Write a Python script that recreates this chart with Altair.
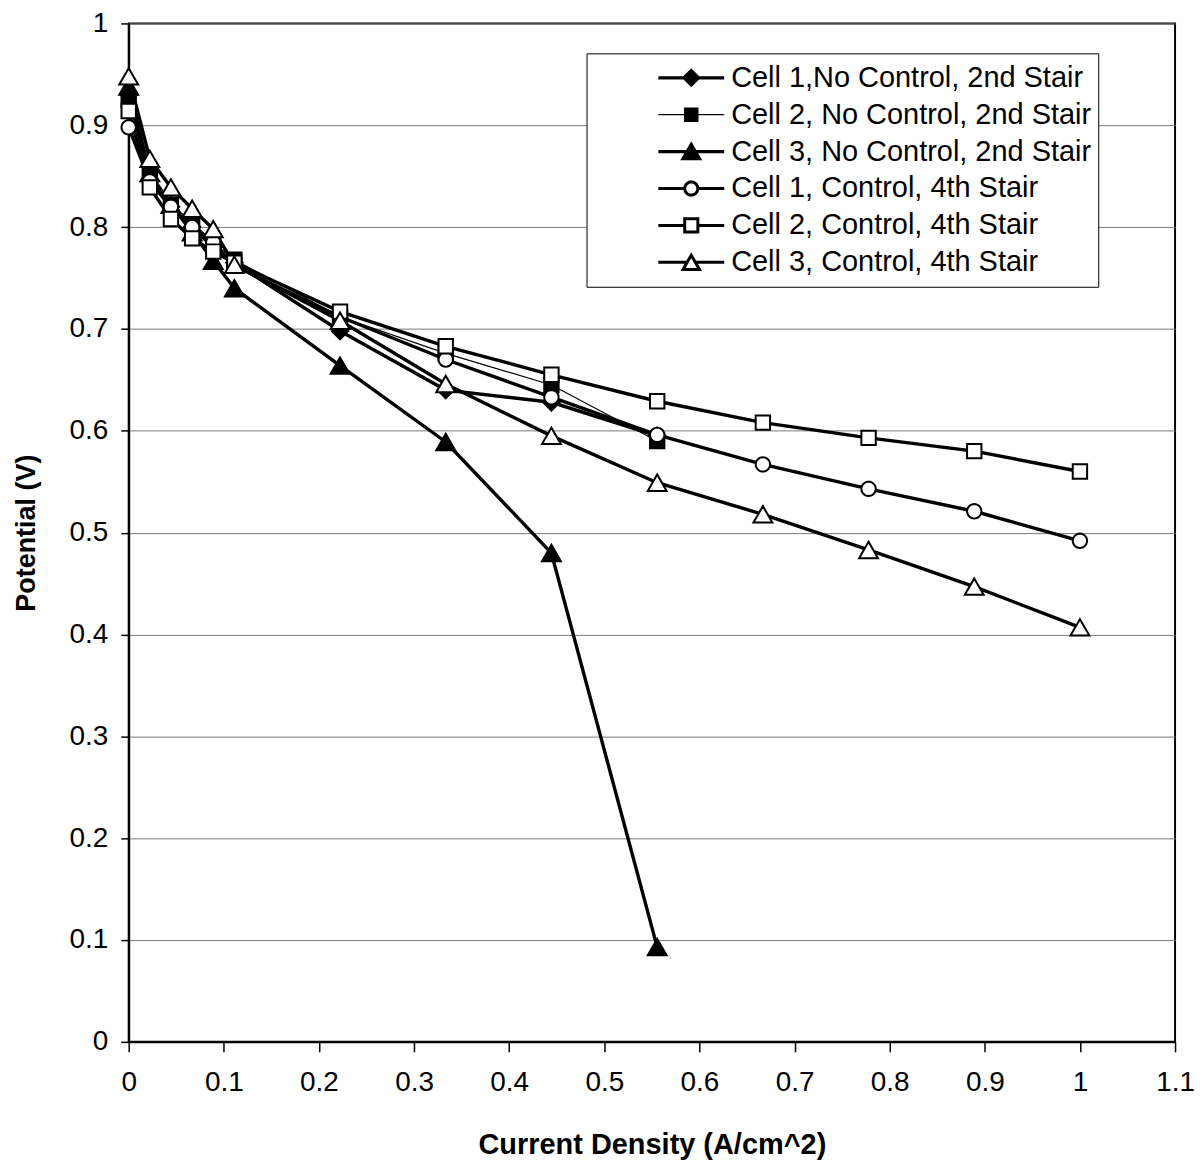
import math
import altair as alt
import pandas as pd

# ---------------- data ----------------
x_vals = [0.0, 0.0222, 0.0444, 0.0667, 0.0889, 0.1111, 0.2222, 0.3333,
          0.4444, 0.5556, 0.6667, 0.7778, 0.8889, 1.0]

series_names = [
    "Cell 1,No Control, 2nd Stair",
    "Cell 2, No Control, 2nd Stair",
    "Cell 3, No Control, 2nd Stair",
    "Cell 1, Control, 4th Stair",
    "Cell 2, Control, 4th Stair",
    "Cell 3, Control, 4th Stair",
]

cell1_nc = [0.930, 0.845, 0.820, 0.800, 0.780, 0.765, 0.698, 0.640, 0.628, 0.595]
cell2_nc = [0.925, 0.852, 0.822, 0.805, 0.785, 0.768, 0.712, 0.676, 0.645, 0.590]
cell3_nc = [0.938, 0.853, 0.822, 0.795, 0.767, 0.740, 0.664, 0.589, 0.480, 0.093]
cell1_c = [0.898, 0.845, 0.820, 0.800, 0.785, 0.762, 0.712, 0.670, 0.633, 0.596,
           0.567, 0.543, 0.521, 0.492]
cell2_c = [0.914, 0.839, 0.808, 0.789, 0.776, 0.765, 0.717, 0.683, 0.655, 0.629,
           0.608, 0.593, 0.580, 0.560]
cell3_c = [0.948, 0.867, 0.839, 0.818, 0.798, 0.763, 0.708, 0.646, 0.595, 0.549,
           0.518, 0.483, 0.447, 0.407]

x_ticks = [0, 0.1, 0.2, 0.3, 0.4, 0.5, 0.6, 0.7, 0.8, 0.9, 1.0, 1.1]
y_ticks = [0, 0.1, 0.2, 0.3, 0.4, 0.5, 0.6, 0.7, 0.8, 0.9, 1.0]

all_series = [cell1_nc, cell2_nc, cell3_nc, cell1_c, cell2_c, cell3_c]
rows = []
for order, (name, vals) in enumerate(zip(series_names, all_series)):
    for xv, yv in zip(x_vals, vals):
        rows.append({"series": name, "order": order, "x": xv, "y": yv})
df = pd.DataFrame(rows)

# ---------------- marker paths ----------------
def poly(pts):
    return "M" + "L".join(f"{px:.3f},{py:.3f}" for px, py in pts) + "Z"

def diamond(h):
    return poly([(0, -h), (h, 0), (0, h), (-h, 0)])

def square(h):
    return poly([(-h, -h), (h, -h), (h, h), (-h, h)])

def triangle(h):
    return poly([(0, -0.87 * h), (h, 0.87 * h), (-h, 0.87 * h)])

def circle(r, n=28):
    return poly([(r * math.cos(2 * math.pi * i / n), r * math.sin(2 * math.pi * i / n))
                 for i in range(n)])

def with_line(marker, gap):
    return f"M-1,0L{-gap:.3f},0M{gap:.3f},0L1,0" + marker

# data markers: size 324 -> 1 unit = 9 px
pt_shapes = [diamond(0.92), square(0.8), triangle(1.05),
             circle(0.8), square(0.8), triangle(1.05)]
# legend symbols: size 4356 -> 1 unit = 33 px
lg_shapes = [
    with_line(diamond(0.22), 0.22),
    with_line(square(0.2), 0.2),
    with_line(triangle(0.25), 0.125),
    with_line(circle(0.2), 0.2),
    with_line(square(0.2), 0.2),
    with_line(triangle(0.25), 0.125),
]
fills = ["black", "black", "black", "white", "white", "white"]
strokes = ["black"] * 6
lg_widths = [3.2, 1.3, 3.2, 3.0, 3.0, 3.0]

FONT = "Liberation Sans"

x_enc = alt.X("x:Q", scale=alt.Scale(domain=[0, 1.1], nice=False, zero=False),
              axis=alt.Axis(values=x_ticks, format="~g", grid=False,
                            title="Current Density (A/cm^2)",
                            tickSize=10, labelPadding=17, titlePadding=34,
                            labelFlush=False))
y_enc = alt.Y("y:Q", scale=alt.Scale(domain=[0, 1], nice=False),
              axis=alt.Axis(values=y_ticks, format="~g", grid=True,
                            title="Potential (V)", titleFontSize=27,
                            tickSize=8, labelPadding=13, titlePadding=29,
                            labelFlush=False))

base = alt.Chart(df)

thick_lines = base.transform_filter(
    alt.datum.series != series_names[1]
).mark_line(color="black", strokeWidth=3.4).encode(
    x=x_enc, y=y_enc, detail="series:N", order="x:Q"
)
thin_line = base.transform_filter(
    alt.datum.series == series_names[1]
).mark_line(color="black", strokeWidth=1.2).encode(
    x=x_enc, y=y_enc, detail="series:N", order="x:Q"
)

points = base.mark_point(size=324, filled=True, stroke="black", strokeWidth=2,
                         opacity=1).encode(
    x=x_enc, y=y_enc,
    shape=alt.Shape("series:N", scale=alt.Scale(domain=series_names, range=pt_shapes),
                    legend=None),
    fill=alt.Fill("series:N", scale=alt.Scale(domain=series_names, range=fills),
                  legend=None),
    order=alt.Order("order:Q"),
)

legend_props = dict(
    title=None, orient="none", legendX=459, legendY=30,
    fillColor="white", strokeColor="black", padding=6,
    rowPadding=0, clipHeight=37, symbolOffset=64, labelOffset=5,
    symbolSize=4356,
    labelFont=FONT, labelFontSize=29, labelColor="black",
    labelLimit=600, symbolOpacity=1,
    symbolStrokeColor="black", symbolStrokeWidth=3,
)

legend_layer = base.transform_filter("false").mark_point(
    size=4356, filled=True, strokeWidth=3, opacity=1
).encode(
    x=x_enc, y=y_enc,
    shape=alt.Shape("series:N", scale=alt.Scale(domain=series_names, range=lg_shapes),
                    legend=alt.Legend(**legend_props)),
    fill=alt.Fill("series:N", scale=alt.Scale(domain=series_names, range=fills),
                  legend=alt.Legend(**legend_props)),
    stroke=alt.Stroke("series:N", scale=alt.Scale(domain=series_names, range=strokes),
                      legend=alt.Legend(**legend_props)),
    strokeWidth=alt.StrokeWidth("series:N",
                                scale=alt.Scale(type="ordinal", domain=series_names,
                                                range=lg_widths),
                                legend=alt.Legend(**legend_props)),
)

chart = alt.layer(thick_lines, thin_line, points, legend_layer).resolve_scale(
    shape="independent", fill="independent", stroke="independent",
    strokeWidth="independent"
).properties(
    width=1049, height=1021,
    autosize=alt.AutoSizeParams(type="none"),
    padding={"left": 121, "top": 14, "right": 20, "bottom": 125},
    background="white",
).configure_view(
    stroke="black", strokeWidth=2
).configure_axis(
    labelFont=FONT, labelFontSize=28, labelColor="black",
    titleFont=FONT, titleFontSize=29, titleFontWeight="bold", titleColor="black",
    domainColor="black", domainWidth=2, tickColor="black", tickWidth=1.5,
    gridColor="#7a7a7a", gridWidth=1,
)

chart.save("out.html", embed_options={"renderer": "svg", "actions": False})
